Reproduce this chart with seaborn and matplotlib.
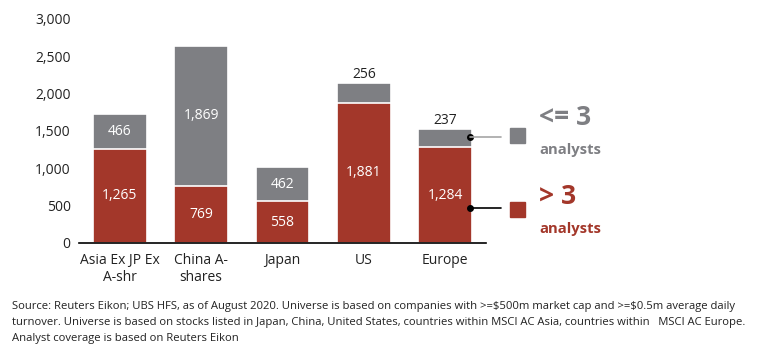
import matplotlib
matplotlib.use("Agg")
import matplotlib.pyplot as plt
import seaborn as sns
import pandas as pd

categories = ["Asia Ex JP Ex\nA-shr", "China A-\nshares", "Japan", "US", "Europe"]
more_than_3 = [1265, 769, 558, 1881, 1284]
up_to_3 = [466, 1869, 462, 256, 237]
label_above = [False, False, False, True, True]
yticks = [0, 500, 1000, 1500, 2000, 2500, 3000]

RED = "#A3372A"
GRAY = "#7E7F83"

sns.set_theme(style="white")
plt.rcParams["font.family"] = ["Open Sans", "DejaVu Sans"]

df = pd.DataFrame({"cat": categories, "red": more_than_3, "gray": up_to_3})
df["total"] = df["red"] + df["gray"]

fig = plt.figure(figsize=(7.73, 3.62), dpi=100)
ax = fig.add_axes([79/773, 1-243/362, 407/773, 224/362])

sns.barplot(data=df, x="cat", y="total", color=GRAY, saturation=1, width=0.66,
            edgecolor="white", linewidth=1.2, ax=ax)
sns.barplot(data=df, x="cat", y="red", color=RED, saturation=1, width=0.66,
            edgecolor="white", linewidth=1.2, ax=ax)

ax.set_ylim(0, 3000)
ax.set_xlim(-0.5, 4.5)
ax.set_yticks(yticks)
ax.set_yticklabels([f"{v:,}" for v in yticks], fontsize=10, color="#222222")
ax.tick_params(axis="y", length=0, pad=6)
ax.tick_params(axis="x", length=0, pad=7, labelsize=10, labelcolor="#222222")
ax.set_xlabel("")
ax.set_ylabel("")
for s in ["top", "right", "left"]:
    ax.spines[s].set_visible(False)
ax.spines["bottom"].set_color("black")
ax.spines["bottom"].set_linewidth(1.2)

for i, (r, g, above) in enumerate(zip(more_than_3, up_to_3, label_above)):
    ax.text(i, r / 2, f"{r:,}", ha="center", va="center", color="white", fontsize=10)
    if above:
        ax.text(i, r + g + 15, f"{g:,}", ha="center", va="bottom", color="#222222", fontsize=10)
    else:
        ax.text(i, r + g / 2, f"{g:,}", ha="center", va="center", color="white", fontsize=10)

# connectors from Europe bar to legend
ex = 4 + 0.66 / 2 - 0.03
y_gray = 1420
y_red = 469
trans = ax.transData
for yv, col in [(y_gray, "#A6A6A6"), (y_red, "black")]:
    xd, yd = trans.transform((ex, yv))
    xf, yf = fig.transFigure.inverted().transform((xd, yd))
    fig.add_artist(plt.Line2D([xf, 501/773], [yf, yf], color=col, lw=1.2,
                              transform=fig.transFigure))
    ax.plot([ex], [yv], "o", color="black", ms=4, clip_on=False, zorder=5)

# legend squares and text
fig.add_artist(plt.Rectangle((510/773, 1-143/362), 15/773, 15/362,
                             color=GRAY, transform=fig.transFigure))
fig.add_artist(plt.Rectangle((510/773, 1-217/362), 15/773, 15/362,
                             color=RED, transform=fig.transFigure))
fig.text(539/773, 1-118/362, "<= 3", color=GRAY, fontsize=19, fontweight="bold",
         va="center", ha="left")
fig.text(539/773, 1-150/362, "analysts", color=GRAY, fontsize=10.7, fontweight="bold",
         va="center", ha="left")
fig.text(539/773, 1-197/362, "> 3", color=RED, fontsize=19, fontweight="bold",
         va="center", ha="left")
fig.text(539/773, 1-229/362, "analysts", color=RED, fontsize=10.7, fontweight="bold",
         va="center", ha="left")

foot_lines = [
    "Source: Reuters Eikon; UBS HFS, as of August 2020. Universe is based on companies with >=\\$500m market cap and >=\\$0.5m average daily",
    "turnover. Universe is based on stocks listed in Japan, China, United States, countries within MSCI AC Asia, countries within   MSCI AC Europe.",
    "Analyst coverage is based on Reuters Eikon",
]
for k, line in enumerate(foot_lines):
    fig.text(12/773, 1-(309 + 16*k)/362, line, fontsize=8.15, va="baseline",
             ha="left", color="#222222")

fig.savefig("out.png", dpi=100)
